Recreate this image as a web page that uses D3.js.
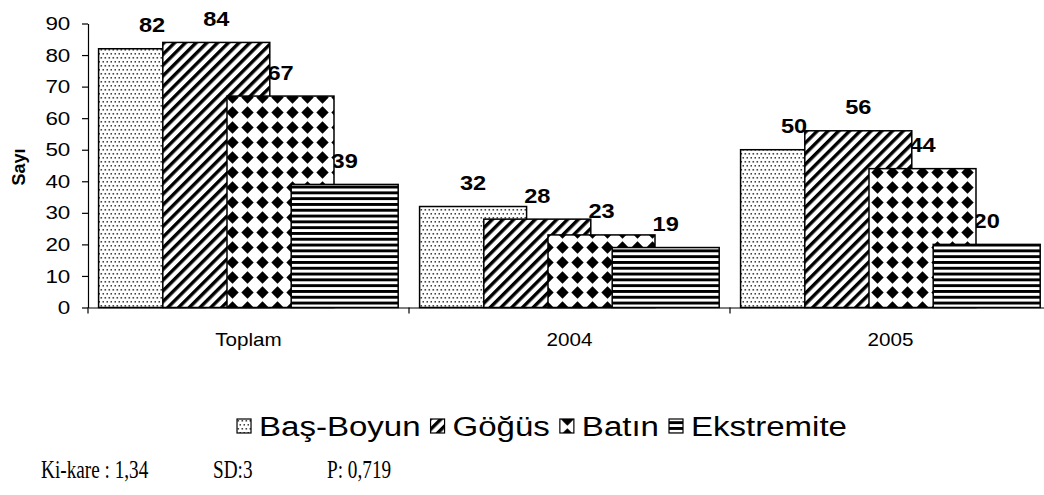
<!DOCTYPE html>
<html>
<head>
<meta charset="utf-8">
<script src="https://cdn.jsdelivr.net/npm/d3@7"></script>
<style>
  html, body { margin: 0; padding: 0; background: #fff; }
  svg { display: block; }
</style>
</head>
<body>
<svg id="chart" width="1044" height="495"></svg>
<script>
// Injury region counts per period
const categories = ["Toplam", "2004", "2005"];
const seriesNames = ["Baş-Boyun", "Göğüs", "Batın", "Ekstremite"];
const basBoyun = [82, 32, 50];
const gogus = [84, 28, 56];
const batin = [67, 23, 44];
const ekstremite = [39, 19, 20];
const yTicks = [0, 10, 20, 30, 40, 50, 60, 70, 80, 90];
const statsText = ["Ki-kare : 1,34", "SD:3", "P: 0,719"];

const seriesValues = [basBoyun, gogus, batin, ekstremite];
const patternIds = ["pat-dots", "pat-diag", "pat-diamond", "pat-hstripe"];

const svg = d3.select("#chart");
const sans = "'Liberation Sans', Arial, sans-serif";
const stretch = 1.18; // chart lettering is set slightly wide

// ---- fill patterns ----
const defs = svg.append("defs");

// fine staggered dots
const pDots = defs.append("pattern").attr("id", "pat-dots")
  .attr("patternUnits", "userSpaceOnUse").attr("width", 4).attr("height", 8);
pDots.append("rect").attr("width", 4).attr("height", 8).attr("fill", "#fff");
pDots.append("rect").attr("x", 0.5).attr("y", 1).attr("width", 1.6).attr("height", 1.6).attr("fill", "#444");
pDots.append("rect").attr("x", 2.5).attr("y", 5).attr("width", 1.6).attr("height", 1.6).attr("fill", "#444");

// wide upward diagonal stripes
const pDiag = defs.append("pattern").attr("id", "pat-diag")
  .attr("patternUnits", "userSpaceOnUse").attr("width", 7.6).attr("height", 10)
  .attr("patternTransform", "rotate(45)");
pDiag.append("rect").attr("width", 7.6).attr("height", 10).attr("fill", "#fff");
pDiag.append("rect").attr("x", 0).attr("width", 3.4).attr("height", 10).attr("fill", "#000");

// black diamonds on a square grid
const dg = 15;
const pDia = defs.append("pattern").attr("id", "pat-diamond")
  .attr("patternUnits", "userSpaceOnUse").attr("width", dg).attr("height", dg);
pDia.append("rect").attr("width", dg).attr("height", dg).attr("fill", "#fff");
const r = 6.2;
pDia.append("path")
  .attr("d", `M${dg / 2},${dg / 2 - r}L${dg / 2 + r},${dg / 2}L${dg / 2},${dg / 2 + r}L${dg / 2 - r},${dg / 2}Z`)
  .attr("fill", "#000");

// horizontal stripes
const pH = defs.append("pattern").attr("id", "pat-hstripe")
  .attr("patternUnits", "userSpaceOnUse").attr("width", 10).attr("height", 5.8);
pH.append("rect").attr("width", 10).attr("height", 5.8).attr("fill", "#fff");
pH.append("rect").attr("y", 0).attr("width", 10).attr("height", 2.9).attr("fill", "#000");

// ---- scales ----
const x = d3.scaleBand().domain(categories).range([88, 1051]).paddingInner(0).paddingOuter(0);
const y = d3.scaleLinear().domain([0, 90]).range([307.5, 23.5]);
const bw = x.bandwidth();
const barW = bw / 3;
const barOffset = i => bw * (0.033 + i * 0.2);

// ---- value labels (drawn beneath the bars) ----
const labelG = svg.append("g");
seriesValues.forEach((vals, si) => {
  labelG.selectAll(null).data(vals).enter().append("text")
    .attr("transform", (d, ci) =>
      `translate(${x(categories[ci]) + barOffset(si) + barW / 2},${y(d) - 16.5}) scale(${stretch},1)`)
    .attr("text-anchor", "middle")
    .attr("font-family", sans).attr("font-weight", "bold").attr("font-size", 20)
    .attr("fill", "#000")
    .text(d => d);
});

// ---- bars, later series overlapping earlier ones ----
seriesValues.forEach((vals, si) => {
  svg.append("g").selectAll("rect").data(vals).enter().append("rect")
    .attr("x", (d, ci) => x(categories[ci]) + barOffset(si))
    .attr("y", d => y(d))
    .attr("width", barW)
    .attr("height", d => y(0) - y(d))
    .attr("fill", `url(#${patternIds[si]})`)
    .attr("stroke", "#000").attr("stroke-width", 1.5);
});

// ---- y axis ----
const yAxis = svg.append("g").attr("transform", "translate(88,0)")
  .call(d3.axisLeft(y).tickValues(yTicks).tickSize(6).tickSizeOuter(0).tickPadding(9));
yAxis.select(".domain").attr("stroke", "#000").attr("stroke-width", 1.2);
yAxis.selectAll(".tick line").attr("stroke", "#000").attr("stroke-width", 1.2);
yAxis.selectAll(".tick text").attr("font-family", sans).attr("font-size", 19).attr("fill", "#000")
  .attr("transform", `scale(${stretch},1)`);

// ---- x axis ----
const xAxis = svg.append("g").attr("transform", `translate(0,${y(0)})`)
  .call(d3.axisBottom(x).tickSize(0).tickSizeOuter(0).tickPadding(26));
xAxis.select(".domain").attr("stroke", "#000").attr("stroke-width", 1.2);
xAxis.selectAll(".tick text").attr("font-family", sans).attr("font-size", 17.5).attr("fill", "#000")
  .attr("transform", `scale(${stretch},1)`);
// boundary ticks between categories
const edges = categories.map(c => x(c)).concat([x(categories[categories.length - 1]) + bw]);
xAxis.selectAll("line.edge").data(edges).enter().append("line").attr("class", "edge")
  .attr("x1", d => d).attr("x2", d => d).attr("y1", 0).attr("y2", 6)
  .attr("stroke", "#000").attr("stroke-width", 1.2);

// ---- y axis title ----
svg.append("text")
  .attr("transform", "translate(25,167) rotate(-90)")
  .attr("text-anchor", "middle")
  .attr("font-family", sans).attr("font-weight", "bold").attr("font-size", 18)
  .text("Sayı");

// ---- legend ----
const legend = svg.append("g");
const lgFont = 28, patch = 14, gapPT = 8, gapItem = 10;
const items = legend.selectAll("g").data(seriesNames).enter().append("g");
items.append("rect").attr("width", patch).attr("height", patch)
  .attr("y", -patch / 2 - 1)
  .attr("fill", (d, i) => `url(#${patternIds[i]})`)
  .attr("stroke", "#000").attr("stroke-width", 1.2);
items.append("text")
  .attr("transform", `translate(${patch + gapPT},9) scale(${stretch},1)`)
  .attr("font-family", sans).attr("font-size", lgFont).attr("fill", "#000")
  .text(d => d);
const widths = [];
items.each(function () {
  const w = patch + gapPT + stretch * d3.select(this).select("text").node().getComputedTextLength();
  widths.push(w);
});
const totalW = d3.sum(widths) + gapItem * (widths.length - 1);
let startX = 542 - totalW / 2;
items.attr("transform", (d, i) => {
  const tx = startX;
  startX += widths[i] + gapItem;
  return `translate(${tx},427)`;
});

// ---- statistics line ----
const statX = [41, 213, 327];
statsText.forEach((t, i) => {
  svg.append("text")
    .attr("transform", `translate(${statX[i]},478) scale(0.74,1)`)
    .attr("font-family", "'Liberation Serif', 'Times New Roman', serif")
    .attr("font-size", 26).attr("fill", "#000")
    .text(t);
});
</script>
</body>
</html>
